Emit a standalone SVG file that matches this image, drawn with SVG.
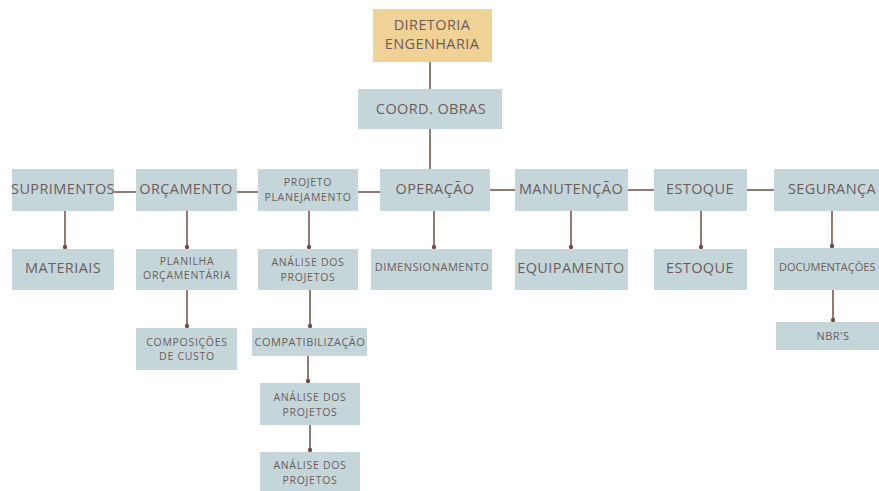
<svg xmlns="http://www.w3.org/2000/svg" width="879" height="491" viewBox="0 0 879 491">
<style>
.b{fill:#c4d6d9}
.top{fill:#f0d196}
.t{font-family:"Open Sans","Liberation Sans",sans-serif;fill:#6d5c59;text-anchor:middle;dominant-baseline:central}
.L{font-size:14.5px;letter-spacing:0.4px}
.S{font-size:11px;letter-spacing:0.5px}
.S2{font-size:10.5px;letter-spacing:0.7px}
.c line{stroke:#6e4f4a;stroke-width:1.5}
.c circle{fill:#6e4f4a}
</style>
<rect width="879" height="491" fill="#ffffff"/>
<g class="c" id="connectors">
<line x1="430" y1="62" x2="430" y2="89"/>
<line x1="430" y1="129" x2="430" y2="169"/>
<line x1="114" y1="192" x2="136" y2="192"/>
<line x1="237" y1="192" x2="258" y2="192"/>
<line x1="358" y1="192" x2="380" y2="192"/>
<line x1="490" y1="190" x2="515" y2="190"/>
<line x1="628" y1="190" x2="654" y2="190"/>
<line x1="747" y1="190" x2="774" y2="190"/>
<line x1="65" y1="211" x2="65" y2="249"/><circle cx="65" cy="247" r="2.2"/>
<line x1="187" y1="211" x2="187" y2="249"/><circle cx="187" cy="247" r="2.2"/>
<line x1="309" y1="211" x2="309" y2="249"/><circle cx="309" cy="247" r="2.2"/>
<line x1="434" y1="211" x2="434" y2="249"/><circle cx="434" cy="247" r="2.2"/>
<line x1="571" y1="211" x2="571" y2="249"/><circle cx="571" cy="247" r="2.2"/>
<line x1="701" y1="211" x2="701" y2="249"/><circle cx="701" cy="247" r="2.2"/>
<line x1="832" y1="211" x2="832" y2="248"/><circle cx="832" cy="246" r="2.2"/>
<line x1="187" y1="290" x2="187" y2="328"/><circle cx="187" cy="326" r="2.2"/>
<line x1="310" y1="290" x2="310" y2="328"/><circle cx="310" cy="326" r="2.2"/>
<line x1="308" y1="356" x2="308" y2="383"/><circle cx="308" cy="381" r="2.2"/>
<line x1="310" y1="425" x2="310" y2="452"/><circle cx="310" cy="450" r="2.2"/>
<line x1="833" y1="290" x2="833" y2="322"/><circle cx="833" cy="320" r="2.2"/>
</g>
<g id="diretoria"><rect class="top" x="373" y="9" width="119" height="53"/><text class="t L"><tspan x="432" y="24">DIRETORIA</tspan><tspan x="432" y="43">ENGENHARIA</tspan></text></g>
<g id="coord"><rect class="b" x="358" y="89" width="144" height="40"/><text class="t L" x="431" y="108">COORD. OBRAS</text></g>
<g id="suprimentos"><rect class="b" x="12" y="169" width="102" height="42"/><text class="t L" x="63" y="188">SUPRIMENTOS</text></g>
<g id="orcamento"><rect class="b" x="136" y="169" width="101" height="42"/><text class="t L" x="186" y="188">ORÇAMENTO</text></g>
<g id="projeto"><rect class="b" x="258" y="169" width="100" height="42"/><text class="t S2"><tspan x="308" y="182">PROJETO</tspan><tspan x="308" y="196.5">PLANEJAMENTO</tspan></text></g>
<g id="operacao"><rect class="b" x="380" y="169" width="110" height="42"/><text class="t L" x="435" y="188">OPERAÇÃO</text></g>
<g id="manutencao"><rect class="b" x="515" y="169" width="113" height="42"/><text class="t L" x="571" y="188">MANUTENÇÃO</text></g>
<g id="estoque1"><rect class="b" x="654" y="169" width="93" height="42"/><text class="t L" x="700" y="188">ESTOQUE</text></g>
<g id="seguranca"><rect class="b" x="774" y="169" width="110" height="42"/><text class="t L" x="788" y="188" style="text-anchor:start">SEGURANÇA</text></g>
<g id="materiais"><rect class="b" x="12" y="249" width="102" height="41"/><text class="t L" x="63" y="267">MATERIAIS</text></g>
<g id="planilha"><rect class="b" x="136" y="249" width="101" height="41"/><text class="t S2"><tspan x="187" y="260.5">PLANILHA</tspan><tspan x="187" y="275">ORÇAMENTÁRIA</tspan></text></g>
<g id="analise1"><rect class="b" x="258" y="249" width="100" height="41"/><text class="t S2"><tspan x="308" y="262">ANÁLISE DOS</tspan><tspan x="308" y="276.5">PROJETOS</tspan></text></g>
<g id="dimensionamento"><rect class="b" x="371" y="249" width="121" height="41"/><text class="t S" x="432" y="266">DIMENSIONAMENTO</text></g>
<g id="equipamento"><rect class="b" x="515" y="249" width="113" height="41"/><text class="t L" x="571" y="267">EQUIPAMENTO</text></g>
<g id="estoque2"><rect class="b" x="654" y="249" width="93" height="41"/><text class="t L" x="700" y="267">ESTOQUE</text></g>
<g id="documentacoes"><rect class="b" x="774" y="248" width="110" height="42"/><text class="t S" x="779" y="266" style="text-anchor:start;letter-spacing:0">DOCUMENTAÇÕES</text></g>
<g id="nbrs"><rect class="b" x="776" y="322" width="110" height="28"/><text class="t S" x="833" y="335">NBR'S</text></g>
<g id="composicoes"><rect class="b" x="136" y="328" width="101" height="42"/><text class="t S2"><tspan x="187" y="341.5">COMPOSIÇÕES</tspan><tspan x="187" y="356">DE CUSTO</tspan></text></g>
<g id="compatibilizacao"><rect class="b" x="252" y="328" width="115" height="28"/><text class="t S" x="310" y="341">COMPATIBILIZAÇÃO</text></g>
<g id="analise2"><rect class="b" x="260" y="383" width="100" height="42"/><text class="t S2"><tspan x="310" y="397">ANÁLISE DOS</tspan><tspan x="310" y="411.5">PROJETOS</tspan></text></g>
<g id="analise3"><rect class="b" x="260" y="452" width="100" height="39"/><text class="t S2"><tspan x="310" y="465">ANÁLISE DOS</tspan><tspan x="310" y="479.5">PROJETOS</tspan></text></g>
</svg>
